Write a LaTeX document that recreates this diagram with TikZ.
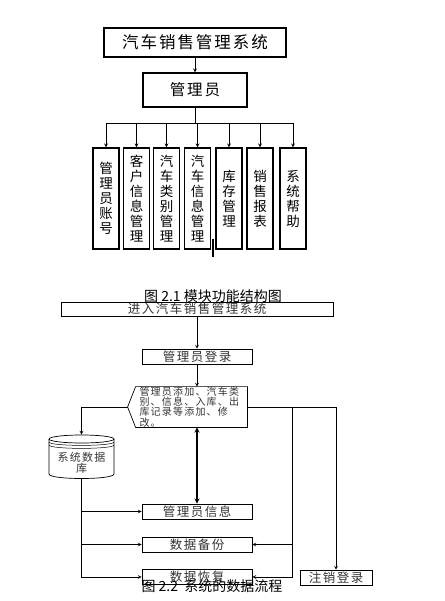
\documentclass[tikz,border=0pt]{standalone}
\usepackage{fontspec}
\setmainfont{Noto Sans CJK SC}
\newfontfamily\cjkwide[LetterSpace=12]{Noto Sans CJK SC}
\usetikzlibrary{positioning}

\begin{document}
\begin{tikzpicture}[x=1pt, y=-1pt, >=stealth, line width=0.8pt,
    module/.style={draw, line width=1.1pt, inner sep=0, minimum width=26, minimum height=101, align=center, font=\fontsize{13.5pt}{15pt}\selectfont},
    flow/.style={draw, line width=0.7pt, inner sep=0, minimum width=110, minimum height=15, text=black!80, font=\cjkwide\fontsize{12.5pt}{14pt}\selectfont},
    figcaption/.style={font=\fontsize{14pt}{16pt}\selectfont}]
\useasboundingbox (0,0) rectangle (444,601);
% module structure
\node[draw, line width=1.1pt, minimum width=182, minimum height=29, font=\cjkwide\fontsize{16.5pt}{18pt}\selectfont] (sys) at (195,42.5) {汽车销售管理系统};
\node[draw, line width=1.1pt, minimum width=104, minimum height=34, font=\cjkwide\fontsize{15.5pt}{17pt}\selectfont] (admin) at (195,90) {管理员};
\draw[->] (sys) -- (admin);
\coordinate (bus) at (195,123);
\foreach \x/\t [count=\i] in {106/管\\理\\员\\账\\号, 136.5/客\\户\\信\\息\\管\\理, 166.5/汽\\车\\类\\别\\管\\理, 197.5/汽\\车\\信\\息\\管\\理, 229/库\\存\\管\\理, 260/销\\售\\报\\表, 293/系\\统\\帮\\助}
    \node[module] (m\i) at (\x,198.5) {\t};
\draw (admin) -- (bus);
\draw (m1 |- bus) -- (m7 |- bus);
\foreach \i in {1,...,7}
    \draw[->] (m\i |- bus) -- (m\i.north);
\draw[line width=1.5pt] (213,239) -- (213,257);
\node[figcaption] (cap1) at (213,296) {图 2.1 模块功能结构图};
% data flow
\node[flow, minimum width=272, minimum height=14] (enter) at (197,309) {进入汽车销售管理系统};
\node[flow] (login) at (197,356.5) {管理员登录};
\draw[->, line width=0.7pt] (enter) -- (login);
\node[inner sep=0, minimum width=111, minimum height=40, text width=104, align=left, text=black!80, font=\cjkwide\fontsize{10pt}{10.2pt}\selectfont] (edit) at (191.5,407) {管理员添加、汽车类\\别、信息、入库、出\\库记录等添加、修\\改。};
\coordinate (tip) at ([xshift=-8pt]edit.west);
\draw[line width=0.7pt] (tip) -- (edit.north west) -- (edit.north east) -- (edit.south east) -- (edit.south west) -- cycle;
\draw[->, line width=0.7pt] (login) -- (login.south |- edit.north);
\node[inner sep=0, minimum width=65, minimum height=32, align=center, text=black!80, font=\cjkwide\fontsize{11pt}{11.5pt}\selectfont] (db) at (81.5,463) {系统数据\\库};
\coordinate (dbtop) at ([yshift=12pt]db.north);
\draw[line width=0.7pt] (81.5,439) ellipse [x radius=32.5, y radius=4];
\draw[line width=0.5pt] (49,442) .. controls (49,446.5) and (114,446.5) .. (114,442);
\draw[line width=0.5pt] (49,445) .. controls (49,449.5) and (114,449.5) .. (114,445);
\draw[line width=0.7pt] (49,439) -- (49,474) .. controls (49,480) and (114,480) .. (114,474) -- (114,439);
\draw[->, line width=0.7pt] (tip) -| (dbtop);
\node[flow] (info) at (197,511.5) {管理员信息};
\node[flow] (backup) at (197,544.5) {数据备份};
\node[flow] (restore) at (197,577) {数据恢复};
\node[flow, minimum width=72] (logout) at (336,577.5) {注销登录};
\draw[->, line width=0.7pt] (db.south) |- (restore);
\draw[->, line width=0.7pt] (db.south |- info) -- (info);
\draw[->, line width=0.7pt] (db.south |- backup) -- (backup);
\draw[<->, line width=1.3pt] (info.north) -- (info.north |- edit.south);
\draw[->, line width=0.7pt] (edit.east) -| (logout.north);
\coordinate (split) at (292,407);
\draw[->, line width=0.7pt] (split) |- (restore.east);
\draw[->, line width=0.7pt] (split |- backup) -- (backup.east);
\node[figcaption] (cap2) at (212,586) {图 2.2\ \ 系统的数据流程};
\end{tikzpicture}
\end{document}
